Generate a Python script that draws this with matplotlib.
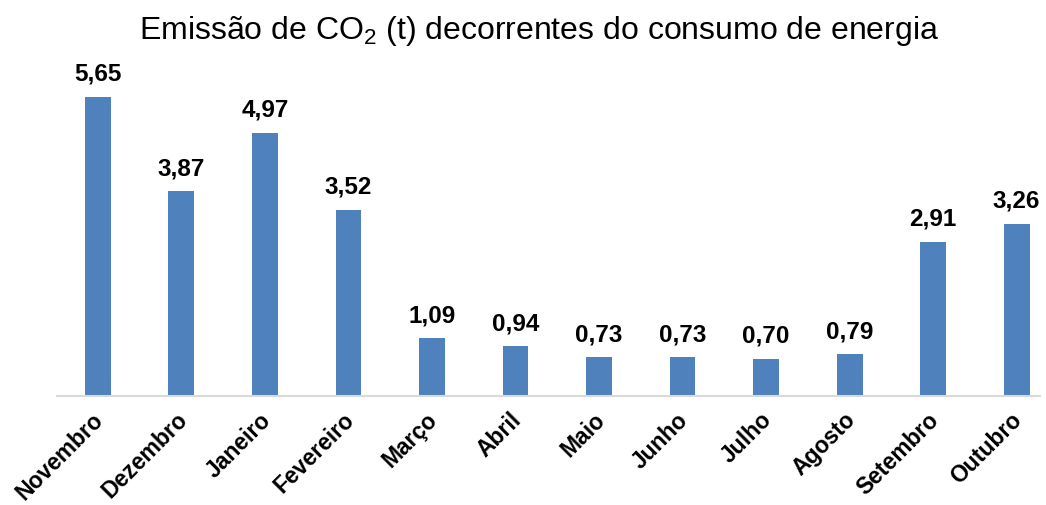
import matplotlib
matplotlib.use('Agg')
import matplotlib.pyplot as plt
from matplotlib.transforms import ScaledTranslation

plt.rcParams['font.family'] = ['Liberation Sans', 'DejaVu Sans']
plt.rcParams['mathtext.fontset'] = 'custom'
plt.rcParams['mathtext.rm'] = 'Liberation Sans'
plt.rcParams['mathtext.it'] = 'Liberation Sans'

# Data
meses = ['Novembro', 'Dezembro', 'Janeiro', 'Fevereiro', 'Março', 'Abril',
         'Maio', 'Junho', 'Julho', 'Agosto', 'Setembro', 'Outubro']
emissoes = [5.65, 3.87, 4.97, 3.52, 1.09, 0.94, 0.73, 0.73, 0.70, 0.79, 2.91, 3.26]

fig = plt.figure(figsize=(10.46, 5.05), dpi=100)
ax = fig.add_axes([57/1046, 1 - 396/505, (1040 - 57)/1046, (396 - 60)/505])

x = range(len(meses))
bars = ax.bar(x, emissoes, width=0.31, color='#4F81BD', zorder=2)

for b, v in zip(bars, emissoes):
    ax.annotate(f'{v:.2f}'.replace('.', ','), (b.get_x() + b.get_width() / 2, v),
                xytext=(0, 8), textcoords='offset points', ha='center', va='bottom',
                fontsize=17.5, fontweight='bold')

ax.set_xlim(-0.49, 11.28)
ax.set_ylim(0, 6.35)
ax.set_xticks(list(x))
ax.set_xticklabels(meses, rotation=45, ha='right', rotation_mode='anchor',
                   fontsize=16.5, fontweight='bold')
ax.tick_params(axis='x', length=0, pad=9)
# nudge labels a bit left so they end under the bar centre
shift = ScaledTranslation(-6/100, 0, fig.dpi_scale_trans)
for lbl in ax.get_xticklabels():
    lbl.set_transform(lbl.get_transform() + shift)
ax.set_yticks([])
for s in ['top', 'right', 'left']:
    ax.spines[s].set_visible(False)
ax.spines['bottom'].set_color('#d9d9d9')
ax.spines['bottom'].set_linewidth(1.5)

fig.text(539/1046, 1 - 31/505, 'Emissão de CO$_{\\mathrm{2}}$ (t) decorrentes do consumo de energia',
         ha='center', va='center', fontsize=23)

fig.savefig('out.png', dpi=100)
